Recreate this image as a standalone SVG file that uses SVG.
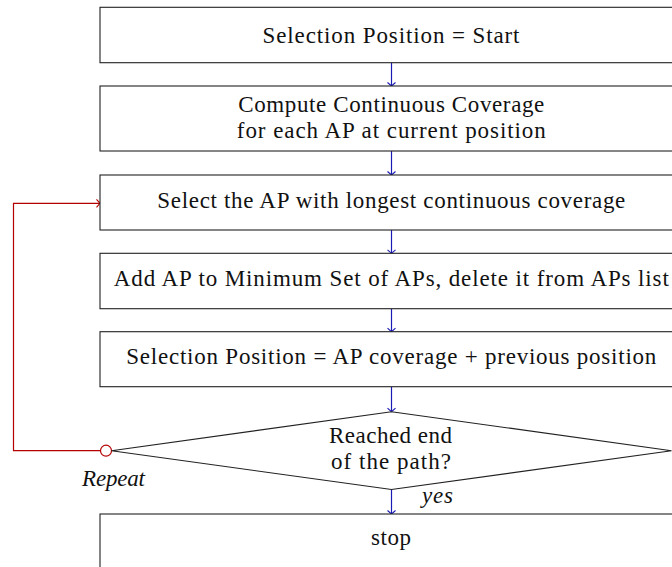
<svg xmlns="http://www.w3.org/2000/svg" width="672" height="567" viewBox="0 0 672 567">
<defs>
<style>
.box{fill:#fff;stroke:#222;stroke-width:1.1}
.t{font-family:"Liberation Serif","Times New Roman",serif;font-size:23px;fill:#111;text-anchor:middle}
.it{font-style:italic}
.flow{stroke:#1a1ab4;stroke-width:1.2;fill:none}
.loop{stroke:#b40000;stroke-width:1.2;fill:none}
</style>
<marker id="ab" markerWidth="10" markerHeight="10" refX="5" refY="5" orient="auto" markerUnits="userSpaceOnUse">
<path d="M1.5,1 L5,5 L1.5,9" fill="none" stroke="#1a1ab4" stroke-width="1.1"/>
</marker>
<marker id="ar" markerWidth="10" markerHeight="10" refX="5" refY="5" orient="auto" markerUnits="userSpaceOnUse">
<path d="M1.5,1 L5,5 L1.5,9" fill="none" stroke="#b40000" stroke-width="1.1"/>
</marker>
</defs>
<rect width="672" height="567" fill="#fff"/>
<g id="connectors">
<line class="flow" x1="391.5" y1="62.7" x2="391.5" y2="86" marker-end="url(#ab)"/>
<line class="flow" x1="391.5" y1="151" x2="391.5" y2="175" marker-end="url(#ab)"/>
<line class="flow" x1="391.5" y1="230" x2="391.5" y2="253.3" marker-end="url(#ab)"/>
<line class="flow" x1="391.5" y1="308.7" x2="391.5" y2="331.7" marker-end="url(#ab)"/>
<line class="flow" x1="391.5" y1="386.7" x2="391.5" y2="411.7" marker-end="url(#ab)"/>
<line class="flow" x1="391.5" y1="489.5" x2="391.5" y2="514" marker-end="url(#ab)"/>
<polyline class="loop" points="100.5,450.7 13.5,450.7 13.5,203.3 100,203.3" marker-end="url(#ar)"/>
<circle cx="106" cy="450.7" r="5.5" fill="#fff" stroke="#b40000" stroke-width="1.2"/>
<text class="t it" x="113.5" y="486" textLength="63">Repeat</text>
<text class="t it" x="437.5" y="503" textLength="31">yes</text>
</g>
<g id="n1">
<rect class="box" x="100" y="7.3" width="583" height="55.4"/>
<text class="t" x="391" y="42.7" textLength="257">Selection Position = Start</text>
</g>
<g id="n2">
<rect class="box" x="100" y="86" width="583" height="65"/>
<text class="t" x="391.3" y="111.7" textLength="306">Compute Continuous Coverage</text>
<text class="t" x="391.3" y="137.7" textLength="309">for each AP at current position</text>
</g>
<g id="n3">
<rect class="box" x="100" y="175" width="583" height="55"/>
<text class="t" x="391.3" y="208.3" textLength="468">Select the AP with longest continuous coverage</text>
</g>
<g id="n4">
<rect class="box" x="100" y="253.3" width="583" height="55.4"/>
<text class="t" x="391.3" y="286" textLength="555">Add AP to Minimum Set of APs, delete it from APs list</text>
</g>
<g id="n5">
<rect class="box" x="100" y="331.7" width="583" height="55"/>
<text class="t" x="391.3" y="364" textLength="530">Selection Position = AP coverage + previous position</text>
</g>
<g id="n6">
<polygon class="box" points="391.5,411.7 671.5,450.7 391.5,489.5 111.5,450.7"/>
<text class="t" x="390.5" y="443" textLength="123">Reached end</text>
<text class="t" x="391" y="469" textLength="120">of the path?</text>
</g>
<g id="n7">
<rect class="box" x="100" y="514" width="583" height="60"/>
<text class="t" x="391" y="545" textLength="40">stop</text>
</g>
</svg>
